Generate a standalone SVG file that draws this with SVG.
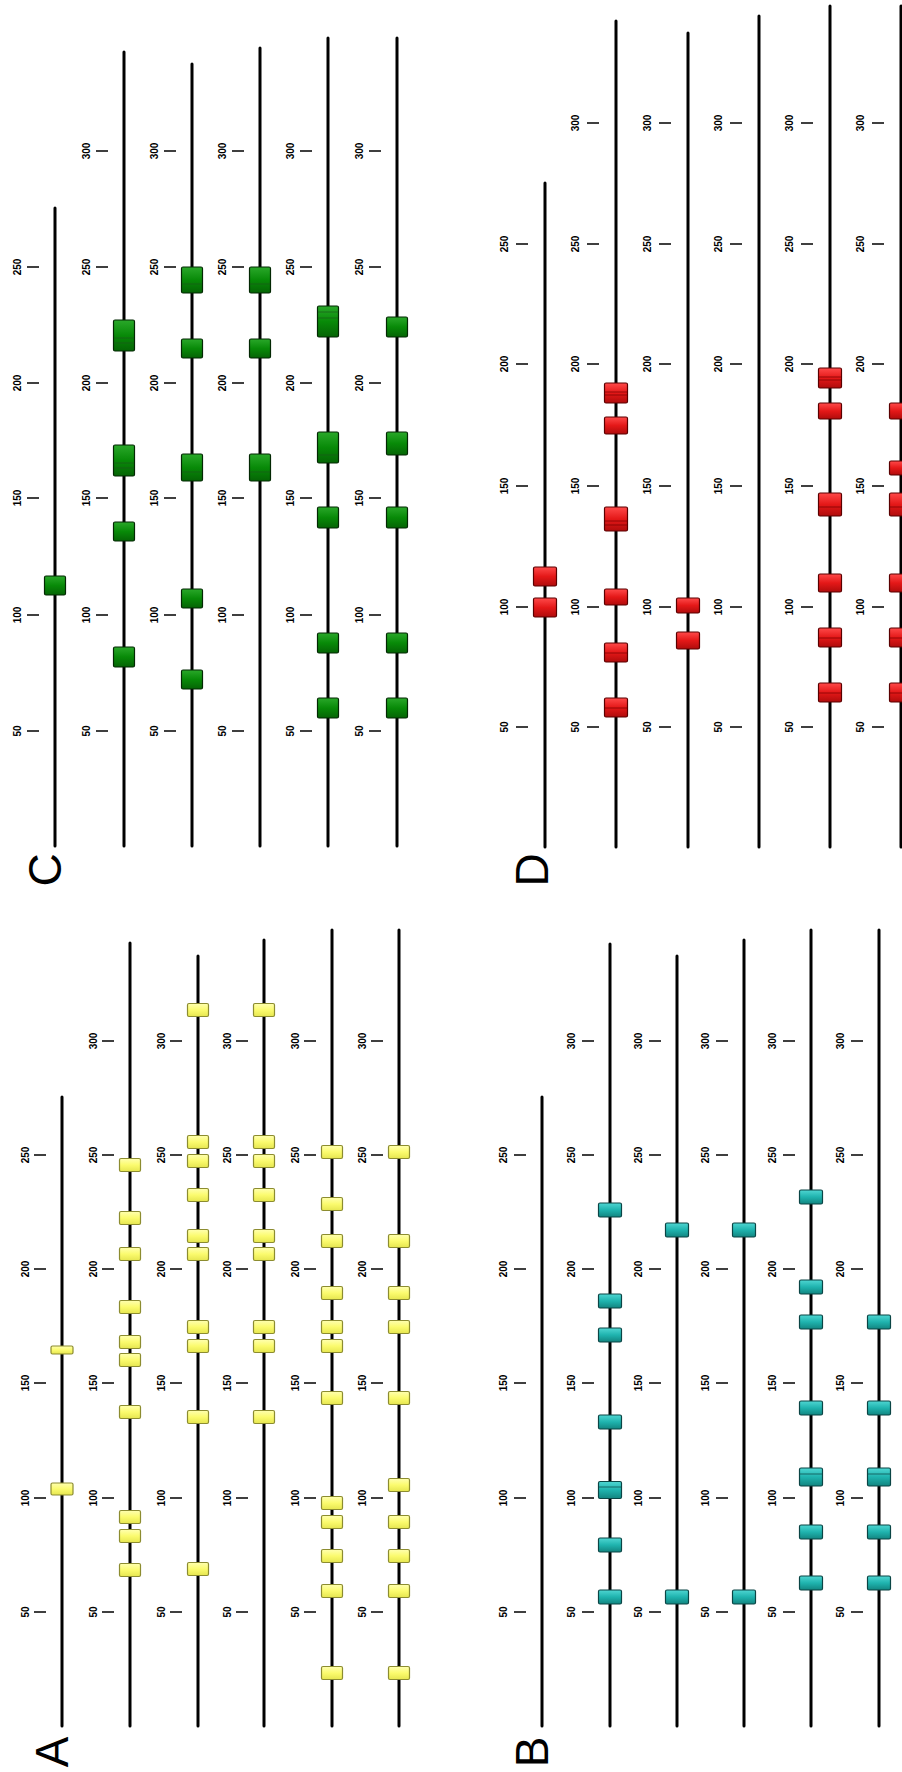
<svg xmlns="http://www.w3.org/2000/svg" width="902" height="1772" viewBox="0 0 902 1772">
<defs>
<linearGradient id="gy" x1="0" y1="0" x2="0" y2="1"><stop offset="0" stop-color="#ffffb0"/><stop offset="0.5" stop-color="#fbfb6e"/><stop offset="1" stop-color="#e6e650"/></linearGradient>
<linearGradient id="gt" x1="0" y1="0" x2="0" y2="1"><stop offset="0" stop-color="#4fd6d2"/><stop offset="0.5" stop-color="#1fb3ae"/><stop offset="1" stop-color="#128580"/></linearGradient>
<linearGradient id="gg" x1="0" y1="0" x2="0" y2="1"><stop offset="0" stop-color="#2aa82a"/><stop offset="0.5" stop-color="#088a08"/><stop offset="1" stop-color="#056405"/></linearGradient>
<linearGradient id="gr" x1="0" y1="0" x2="0" y2="1"><stop offset="0" stop-color="#ff4a4a"/><stop offset="0.5" stop-color="#e41818"/><stop offset="1" stop-color="#b00c0c"/></linearGradient>
<style>
.ln{stroke:#000;stroke-width:3;stroke-linecap:round;fill:none}
.tk{stroke:#000;stroke-width:1.6}
.t{font-family:"Liberation Sans",Arial,sans-serif;font-weight:bold;font-size:10px;text-anchor:middle;fill:#000}
.lbl{font-family:"Liberation Sans",Arial,sans-serif;font-size:46px;text-anchor:middle;fill:#000}
.ya{fill:url(#gy);stroke:#8c8c30;stroke-width:1.2}
.tb{fill:url(#gt);stroke:#0b4545;stroke-width:1.2}
.gc{fill:url(#gg);stroke:#032803;stroke-width:1.2}
.rd{fill:url(#gr);stroke:#5a0000;stroke-width:1.2}
.il{stroke-width:1;opacity:0.7}
</style>
</defs>
<rect width="902" height="1772" fill="#fff"/>

<!-- Panel A -->
<g id="panelA">
<text class="lbl" transform="translate(68,1752) rotate(-90)">A</text>
<g id="A-axis">
<path class="tk" d="M34 1612h12M34 1498h12M34 1383h12M34 1269h12M34 1155h12"/>
<text class="t" transform="translate(29,1612) rotate(-90)">50</text><text class="t" transform="translate(29,1498) rotate(-90)">100</text><text class="t" transform="translate(29,1383) rotate(-90)">150</text><text class="t" transform="translate(29,1269) rotate(-90)">200</text><text class="t" transform="translate(29,1155) rotate(-90)">250</text>
<path class="tk" d="M102 1612h12M102 1498h12M102 1383h12M102 1269h12M102 1155h12M102 1041h12"/>
<text class="t" transform="translate(97,1612) rotate(-90)">50</text><text class="t" transform="translate(97,1498) rotate(-90)">100</text><text class="t" transform="translate(97,1383) rotate(-90)">150</text><text class="t" transform="translate(97,1269) rotate(-90)">200</text><text class="t" transform="translate(97,1155) rotate(-90)">250</text><text class="t" transform="translate(97,1041) rotate(-90)">300</text>
<path class="tk" d="M170 1612h12M170 1498h12M170 1383h12M170 1269h12M170 1155h12M170 1041h12"/>
<text class="t" transform="translate(165,1612) rotate(-90)">50</text><text class="t" transform="translate(165,1498) rotate(-90)">100</text><text class="t" transform="translate(165,1383) rotate(-90)">150</text><text class="t" transform="translate(165,1269) rotate(-90)">200</text><text class="t" transform="translate(165,1155) rotate(-90)">250</text><text class="t" transform="translate(165,1041) rotate(-90)">300</text>
<path class="tk" d="M236 1612h12M236 1498h12M236 1383h12M236 1269h12M236 1155h12M236 1041h12"/>
<text class="t" transform="translate(231,1612) rotate(-90)">50</text><text class="t" transform="translate(231,1498) rotate(-90)">100</text><text class="t" transform="translate(231,1383) rotate(-90)">150</text><text class="t" transform="translate(231,1269) rotate(-90)">200</text><text class="t" transform="translate(231,1155) rotate(-90)">250</text><text class="t" transform="translate(231,1041) rotate(-90)">300</text>
<path class="tk" d="M304 1612h12M304 1498h12M304 1383h12M304 1269h12M304 1155h12M304 1041h12"/>
<text class="t" transform="translate(299,1612) rotate(-90)">50</text><text class="t" transform="translate(299,1498) rotate(-90)">100</text><text class="t" transform="translate(299,1383) rotate(-90)">150</text><text class="t" transform="translate(299,1269) rotate(-90)">200</text><text class="t" transform="translate(299,1155) rotate(-90)">250</text><text class="t" transform="translate(299,1041) rotate(-90)">300</text>
<path class="tk" d="M371 1612h12M371 1498h12M371 1383h12M371 1269h12M371 1155h12M371 1041h12"/>
<text class="t" transform="translate(366,1612) rotate(-90)">50</text><text class="t" transform="translate(366,1498) rotate(-90)">100</text><text class="t" transform="translate(366,1383) rotate(-90)">150</text><text class="t" transform="translate(366,1269) rotate(-90)">200</text><text class="t" transform="translate(366,1155) rotate(-90)">250</text><text class="t" transform="translate(366,1041) rotate(-90)">300</text>
</g>
<g id="A1"><line class="ln" x1="62" y1="1097" x2="62" y2="1726"/>
<rect class="ya" x="51" y="1346" width="22" height="8" rx="1.5"/><rect class="ya" x="51" y="1483" width="22" height="12" rx="1.5"/></g>
<g id="A2"><line class="ln" x1="130" y1="943" x2="130" y2="1726"/>
<rect class="ya" x="119.5" y="1158.5" width="21" height="13" rx="1.5"/><rect class="ya" x="119.5" y="1211.5" width="21" height="13" rx="1.5"/><rect class="ya" x="119.5" y="1247.5" width="21" height="13" rx="1.5"/><rect class="ya" x="119.5" y="1300.5" width="21" height="13" rx="1.5"/><rect class="ya" x="119.5" y="1335.5" width="21" height="13" rx="1.5"/><rect class="ya" x="119.5" y="1353.5" width="21" height="13" rx="1.5"/><rect class="ya" x="119.5" y="1405.5" width="21" height="13" rx="1.5"/><rect class="ya" x="119.5" y="1510.5" width="21" height="13" rx="1.5"/><rect class="ya" x="119.5" y="1529.5" width="21" height="13" rx="1.5"/><rect class="ya" x="119.5" y="1563.5" width="21" height="13" rx="1.5"/></g>
<g id="A3"><line class="ln" x1="198" y1="956" x2="198" y2="1726"/>
<rect class="ya" x="187.5" y="1003.5" width="21" height="13" rx="1.5"/><rect class="ya" x="187.5" y="1135.5" width="21" height="13" rx="1.5"/><rect class="ya" x="187.5" y="1154.5" width="21" height="13" rx="1.5"/><rect class="ya" x="187.5" y="1188.5" width="21" height="13" rx="1.5"/><rect class="ya" x="187.5" y="1229.5" width="21" height="13" rx="1.5"/><rect class="ya" x="187.5" y="1247.5" width="21" height="13" rx="1.5"/><rect class="ya" x="187.5" y="1320.5" width="21" height="13" rx="1.5"/><rect class="ya" x="187.5" y="1339.5" width="21" height="13" rx="1.5"/><rect class="ya" x="187.5" y="1410.5" width="21" height="13" rx="1.5"/><rect class="ya" x="187.5" y="1562.5" width="21" height="13" rx="1.5"/></g>
<g id="A4"><line class="ln" x1="264" y1="940" x2="264" y2="1726"/>
<rect class="ya" x="253.5" y="1003.5" width="21" height="13" rx="1.5"/><rect class="ya" x="253.5" y="1135.5" width="21" height="13" rx="1.5"/><rect class="ya" x="253.5" y="1154.5" width="21" height="13" rx="1.5"/><rect class="ya" x="253.5" y="1188.5" width="21" height="13" rx="1.5"/><rect class="ya" x="253.5" y="1229.5" width="21" height="13" rx="1.5"/><rect class="ya" x="253.5" y="1247.5" width="21" height="13" rx="1.5"/><rect class="ya" x="253.5" y="1320.5" width="21" height="13" rx="1.5"/><rect class="ya" x="253.5" y="1339.5" width="21" height="13" rx="1.5"/><rect class="ya" x="253.5" y="1410.5" width="21" height="13" rx="1.5"/></g>
<g id="A5"><line class="ln" x1="332" y1="930" x2="332" y2="1726"/>
<rect class="ya" x="321.5" y="1145.5" width="21" height="13" rx="1.5"/><rect class="ya" x="321.5" y="1197.5" width="21" height="13" rx="1.5"/><rect class="ya" x="321.5" y="1234.5" width="21" height="13" rx="1.5"/><rect class="ya" x="321.5" y="1286.5" width="21" height="13" rx="1.5"/><rect class="ya" x="321.5" y="1320.5" width="21" height="13" rx="1.5"/><rect class="ya" x="321.5" y="1339.5" width="21" height="13" rx="1.5"/><rect class="ya" x="321.5" y="1391.5" width="21" height="13" rx="1.5"/><rect class="ya" x="321.5" y="1496.5" width="21" height="13" rx="1.5"/><rect class="ya" x="321.5" y="1515.5" width="21" height="13" rx="1.5"/><rect class="ya" x="321.5" y="1549.5" width="21" height="13" rx="1.5"/><rect class="ya" x="321.5" y="1584.5" width="21" height="13" rx="1.5"/><rect class="ya" x="321.5" y="1666.5" width="21" height="13" rx="1.5"/></g>
<g id="A6"><line class="ln" x1="399" y1="930" x2="399" y2="1726"/>
<rect class="ya" x="388.5" y="1145.5" width="21" height="13" rx="1.5"/><rect class="ya" x="388.5" y="1234.5" width="21" height="13" rx="1.5"/><rect class="ya" x="388.5" y="1286.5" width="21" height="13" rx="1.5"/><rect class="ya" x="388.5" y="1320.5" width="21" height="13" rx="1.5"/><rect class="ya" x="388.5" y="1391.5" width="21" height="13" rx="1.5"/><rect class="ya" x="388.5" y="1478.5" width="21" height="13" rx="1.5"/><rect class="ya" x="388.5" y="1515.5" width="21" height="13" rx="1.5"/><rect class="ya" x="388.5" y="1549.5" width="21" height="13" rx="1.5"/><rect class="ya" x="388.5" y="1584.5" width="21" height="13" rx="1.5"/><rect class="ya" x="388.5" y="1666.5" width="21" height="13" rx="1.5"/></g>
</g>

<!-- Panel B -->
<g id="panelB">
<text class="lbl" transform="translate(548,1752) rotate(-90)">B</text>
<g id="B-axis">
<path class="tk" d="M514 1612h12M514 1498h12M514 1383h12M514 1269h12M514 1155h12"/>
<text class="t" transform="translate(507,1612) rotate(-90)">50</text><text class="t" transform="translate(507,1498) rotate(-90)">100</text><text class="t" transform="translate(507,1383) rotate(-90)">150</text><text class="t" transform="translate(507,1269) rotate(-90)">200</text><text class="t" transform="translate(507,1155) rotate(-90)">250</text>
<path class="tk" d="M582 1612h12M582 1498h12M582 1383h12M582 1269h12M582 1155h12M582 1041h12"/>
<text class="t" transform="translate(575,1612) rotate(-90)">50</text><text class="t" transform="translate(575,1498) rotate(-90)">100</text><text class="t" transform="translate(575,1383) rotate(-90)">150</text><text class="t" transform="translate(575,1269) rotate(-90)">200</text><text class="t" transform="translate(575,1155) rotate(-90)">250</text><text class="t" transform="translate(575,1041) rotate(-90)">300</text>
<path class="tk" d="M649 1612h12M649 1498h12M649 1383h12M649 1269h12M649 1155h12M649 1041h12"/>
<text class="t" transform="translate(642,1612) rotate(-90)">50</text><text class="t" transform="translate(642,1498) rotate(-90)">100</text><text class="t" transform="translate(642,1383) rotate(-90)">150</text><text class="t" transform="translate(642,1269) rotate(-90)">200</text><text class="t" transform="translate(642,1155) rotate(-90)">250</text><text class="t" transform="translate(642,1041) rotate(-90)">300</text>
<path class="tk" d="M716 1612h12M716 1498h12M716 1383h12M716 1269h12M716 1155h12M716 1041h12"/>
<text class="t" transform="translate(709,1612) rotate(-90)">50</text><text class="t" transform="translate(709,1498) rotate(-90)">100</text><text class="t" transform="translate(709,1383) rotate(-90)">150</text><text class="t" transform="translate(709,1269) rotate(-90)">200</text><text class="t" transform="translate(709,1155) rotate(-90)">250</text><text class="t" transform="translate(709,1041) rotate(-90)">300</text>
<path class="tk" d="M783 1612h12M783 1498h12M783 1383h12M783 1269h12M783 1155h12M783 1041h12"/>
<text class="t" transform="translate(776,1612) rotate(-90)">50</text><text class="t" transform="translate(776,1498) rotate(-90)">100</text><text class="t" transform="translate(776,1383) rotate(-90)">150</text><text class="t" transform="translate(776,1269) rotate(-90)">200</text><text class="t" transform="translate(776,1155) rotate(-90)">250</text><text class="t" transform="translate(776,1041) rotate(-90)">300</text>
<path class="tk" d="M851 1612h12M851 1498h12M851 1383h12M851 1269h12M851 1155h12M851 1041h12"/>
<text class="t" transform="translate(844,1612) rotate(-90)">50</text><text class="t" transform="translate(844,1498) rotate(-90)">100</text><text class="t" transform="translate(844,1383) rotate(-90)">150</text><text class="t" transform="translate(844,1269) rotate(-90)">200</text><text class="t" transform="translate(844,1155) rotate(-90)">250</text><text class="t" transform="translate(844,1041) rotate(-90)">300</text>
</g>
<g id="B1"><line class="ln" x1="542" y1="1097" x2="542" y2="1726"/></g>
<g id="B2"><line class="ln" x1="610" y1="944" x2="610" y2="1726"/>
<rect class="tb" x="598.5" y="1203" width="23" height="14" rx="1.5"/><rect class="tb" x="598.5" y="1294" width="23" height="14" rx="1.5"/><rect class="tb" x="598.5" y="1328" width="23" height="14" rx="1.5"/><rect class="tb" x="598.5" y="1415" width="23" height="14" rx="1.5"/><rect class="tb" x="598.5" y="1481.5" width="23" height="17" rx="1.5"/><line class="il" x1="599" y1="1487" x2="621" y2="1487" stroke="#0b4545"/><rect class="tb" x="598.5" y="1538" width="23" height="14" rx="1.5"/><rect class="tb" x="598.5" y="1590" width="23" height="14" rx="1.5"/></g>
<g id="B3"><line class="ln" x1="677" y1="956" x2="677" y2="1726"/>
<rect class="tb" x="665.5" y="1223" width="23" height="14" rx="1.5"/><rect class="tb" x="665.5" y="1590" width="23" height="14" rx="1.5"/></g>
<g id="B4"><line class="ln" x1="744" y1="940" x2="744" y2="1726"/>
<rect class="tb" x="732.5" y="1223" width="23" height="14" rx="1.5"/><rect class="tb" x="732.5" y="1590" width="23" height="14" rx="1.5"/></g>
<g id="B5"><line class="ln" x1="811" y1="930" x2="811" y2="1726"/>
<rect class="tb" x="799.5" y="1190" width="23" height="14" rx="1.5"/><rect class="tb" x="799.5" y="1280" width="23" height="14" rx="1.5"/><rect class="tb" x="799.5" y="1315" width="23" height="14" rx="1.5"/><rect class="tb" x="799.5" y="1401" width="23" height="14" rx="1.5"/><rect class="tb" x="799.5" y="1468" width="23" height="18" rx="1.5"/><line class="il" x1="800" y1="1474" x2="822" y2="1474" stroke="#0b4545"/><rect class="tb" x="799.5" y="1525" width="23" height="14" rx="1.5"/><rect class="tb" x="799.5" y="1576" width="23" height="14" rx="1.5"/></g>
<g id="B6"><line class="ln" x1="879" y1="930" x2="879" y2="1726"/>
<rect class="tb" x="867.5" y="1315" width="23" height="14" rx="1.5"/><rect class="tb" x="867.5" y="1401" width="23" height="14" rx="1.5"/><rect class="tb" x="867.5" y="1468" width="23" height="18" rx="1.5"/><line class="il" x1="868" y1="1474" x2="890" y2="1474" stroke="#0b4545"/><rect class="tb" x="867.5" y="1525" width="23" height="14" rx="1.5"/><rect class="tb" x="867.5" y="1576" width="23" height="14" rx="1.5"/></g>
</g>

<!-- Panel C -->
<g id="panelC">
<text class="lbl" transform="translate(61,870) rotate(-90)">C</text>
<g id="C-axis">
<path class="tk" d="M27 731h12M27 615h12M27 498h12M27 383h12M27 267h12"/>
<text class="t" transform="translate(21,731) rotate(-90)">50</text><text class="t" transform="translate(21,615) rotate(-90)">100</text><text class="t" transform="translate(21,498) rotate(-90)">150</text><text class="t" transform="translate(21,383) rotate(-90)">200</text><text class="t" transform="translate(21,267) rotate(-90)">250</text>
<path class="tk" d="M96 731h12M96 615h12M96 498h12M96 383h12M96 267h12M96 151h12"/>
<text class="t" transform="translate(90,731) rotate(-90)">50</text><text class="t" transform="translate(90,615) rotate(-90)">100</text><text class="t" transform="translate(90,498) rotate(-90)">150</text><text class="t" transform="translate(90,383) rotate(-90)">200</text><text class="t" transform="translate(90,267) rotate(-90)">250</text><text class="t" transform="translate(90,151) rotate(-90)">300</text>
<path class="tk" d="M164 731h12M164 615h12M164 498h12M164 383h12M164 267h12M164 151h12"/>
<text class="t" transform="translate(158,731) rotate(-90)">50</text><text class="t" transform="translate(158,615) rotate(-90)">100</text><text class="t" transform="translate(158,498) rotate(-90)">150</text><text class="t" transform="translate(158,383) rotate(-90)">200</text><text class="t" transform="translate(158,267) rotate(-90)">250</text><text class="t" transform="translate(158,151) rotate(-90)">300</text>
<path class="tk" d="M232 731h12M232 615h12M232 498h12M232 383h12M232 267h12M232 151h12"/>
<text class="t" transform="translate(226,731) rotate(-90)">50</text><text class="t" transform="translate(226,615) rotate(-90)">100</text><text class="t" transform="translate(226,498) rotate(-90)">150</text><text class="t" transform="translate(226,383) rotate(-90)">200</text><text class="t" transform="translate(226,267) rotate(-90)">250</text><text class="t" transform="translate(226,151) rotate(-90)">300</text>
<path class="tk" d="M300 731h12M300 615h12M300 498h12M300 383h12M300 267h12M300 151h12"/>
<text class="t" transform="translate(294,731) rotate(-90)">50</text><text class="t" transform="translate(294,615) rotate(-90)">100</text><text class="t" transform="translate(294,498) rotate(-90)">150</text><text class="t" transform="translate(294,383) rotate(-90)">200</text><text class="t" transform="translate(294,267) rotate(-90)">250</text><text class="t" transform="translate(294,151) rotate(-90)">300</text>
<path class="tk" d="M369 731h12M369 615h12M369 498h12M369 383h12M369 267h12M369 151h12"/>
<text class="t" transform="translate(363,731) rotate(-90)">50</text><text class="t" transform="translate(363,615) rotate(-90)">100</text><text class="t" transform="translate(363,498) rotate(-90)">150</text><text class="t" transform="translate(363,383) rotate(-90)">200</text><text class="t" transform="translate(363,267) rotate(-90)">250</text><text class="t" transform="translate(363,151) rotate(-90)">300</text>
</g>
<g id="C1"><line class="ln" x1="55" y1="208" x2="55" y2="846"/>
<rect class="gc" x="44.5" y="576" width="21" height="19" rx="1.5"/></g>
<g id="C2"><line class="ln" x1="124" y1="52" x2="124" y2="846"/>
<rect class="gc" x="113.5" y="320" width="21" height="31" rx="1.5"/><path class="il" d="M114 338h20M114 343h20" stroke="#1a5a1a"/>
<rect class="gc" x="113.5" y="445" width="21" height="31" rx="1.5"/><path class="il" d="M114 463h20M114 468h20" stroke="#1a5a1a"/>
<rect class="gc" x="113.5" y="522" width="21" height="19" rx="1.5"/><rect class="gc" x="113.5" y="647" width="21" height="20" rx="1.5"/></g>
<g id="C3"><line class="ln" x1="192" y1="64" x2="192" y2="846"/>
<rect class="gc" x="181.5" y="267" width="21" height="26" rx="1.5"/><path class="il" d="M182 284h20" stroke="#1a5a1a"/>
<rect class="gc" x="181.5" y="339" width="21" height="19" rx="1.5"/>
<rect class="gc" x="181.5" y="454" width="21" height="27" rx="1.5"/><path class="il" d="M182 472h20" stroke="#1a5a1a"/>
<rect class="gc" x="181.5" y="589" width="21" height="19" rx="1.5"/><rect class="gc" x="181.5" y="670" width="21" height="19" rx="1.5"/></g>
<g id="C4"><line class="ln" x1="260" y1="48" x2="260" y2="846"/>
<rect class="gc" x="249.5" y="267" width="21" height="26" rx="1.5"/><path class="il" d="M250 284h20" stroke="#1a5a1a"/>
<rect class="gc" x="249.5" y="339" width="21" height="19" rx="1.5"/>
<rect class="gc" x="249.5" y="454" width="21" height="27" rx="1.5"/><path class="il" d="M250 472h20" stroke="#1a5a1a"/></g>
<g id="C5"><line class="ln" x1="328" y1="38" x2="328" y2="846"/>
<rect class="gc" x="317.5" y="306" width="21" height="31" rx="1.5"/><path class="il" d="M318 312h20M318 318h20" stroke="#1a5a1a"/>
<rect class="gc" x="317.5" y="432" width="21" height="31" rx="1.5"/><path class="il" d="M318 455h20" stroke="#1a5a1a"/>
<rect class="gc" x="317.5" y="507" width="21" height="21" rx="1.5"/><rect class="gc" x="317.5" y="633" width="21" height="20" rx="1.5"/><rect class="gc" x="317.5" y="698" width="21" height="20" rx="1.5"/></g>
<g id="C6"><line class="ln" x1="397" y1="38" x2="397" y2="846"/>
<rect class="gc" x="386.5" y="317" width="21" height="20" rx="1.5"/><rect class="gc" x="386.5" y="432" width="21" height="23" rx="1.5"/><rect class="gc" x="386.5" y="507" width="21" height="21" rx="1.5"/><rect class="gc" x="386.5" y="633" width="21" height="20" rx="1.5"/><rect class="gc" x="386.5" y="698" width="21" height="20" rx="1.5"/></g>
</g>

<!-- Panel D -->
<g id="panelD">
<text class="lbl" transform="translate(548,870) rotate(-90)">D</text>
<g id="D-axis">
<path class="tk" d="M516 727h12M516 607h12M516 486h12M516 364h12M516 244h12"/>
<text class="t" transform="translate(508,727) rotate(-90)">50</text><text class="t" transform="translate(508,607) rotate(-90)">100</text><text class="t" transform="translate(508,486) rotate(-90)">150</text><text class="t" transform="translate(508,364) rotate(-90)">200</text><text class="t" transform="translate(508,244) rotate(-90)">250</text>
<path class="tk" d="M587 727h12M587 607h12M587 486h12M587 364h12M587 244h12M587 123h12"/>
<text class="t" transform="translate(579,727) rotate(-90)">50</text><text class="t" transform="translate(579,607) rotate(-90)">100</text><text class="t" transform="translate(579,486) rotate(-90)">150</text><text class="t" transform="translate(579,364) rotate(-90)">200</text><text class="t" transform="translate(579,244) rotate(-90)">250</text><text class="t" transform="translate(579,123) rotate(-90)">300</text>
<path class="tk" d="M659 727h12M659 607h12M659 486h12M659 364h12M659 244h12M659 123h12"/>
<text class="t" transform="translate(651,727) rotate(-90)">50</text><text class="t" transform="translate(651,607) rotate(-90)">100</text><text class="t" transform="translate(651,486) rotate(-90)">150</text><text class="t" transform="translate(651,364) rotate(-90)">200</text><text class="t" transform="translate(651,244) rotate(-90)">250</text><text class="t" transform="translate(651,123) rotate(-90)">300</text>
<path class="tk" d="M730 727h12M730 607h12M730 486h12M730 364h12M730 244h12M730 123h12"/>
<text class="t" transform="translate(722,727) rotate(-90)">50</text><text class="t" transform="translate(722,607) rotate(-90)">100</text><text class="t" transform="translate(722,486) rotate(-90)">150</text><text class="t" transform="translate(722,364) rotate(-90)">200</text><text class="t" transform="translate(722,244) rotate(-90)">250</text><text class="t" transform="translate(722,123) rotate(-90)">300</text>
<path class="tk" d="M801 727h12M801 607h12M801 486h12M801 364h12M801 244h12M801 123h12"/>
<text class="t" transform="translate(793,727) rotate(-90)">50</text><text class="t" transform="translate(793,607) rotate(-90)">100</text><text class="t" transform="translate(793,486) rotate(-90)">150</text><text class="t" transform="translate(793,364) rotate(-90)">200</text><text class="t" transform="translate(793,244) rotate(-90)">250</text><text class="t" transform="translate(793,123) rotate(-90)">300</text>
<path class="tk" d="M872 727h12M872 607h12M872 486h12M872 364h12M872 244h12M872 123h12"/>
<text class="t" transform="translate(864,727) rotate(-90)">50</text><text class="t" transform="translate(864,607) rotate(-90)">100</text><text class="t" transform="translate(864,486) rotate(-90)">150</text><text class="t" transform="translate(864,364) rotate(-90)">200</text><text class="t" transform="translate(864,244) rotate(-90)">250</text><text class="t" transform="translate(864,123) rotate(-90)">300</text>
</g>
<g id="D1"><line class="ln" x1="545" y1="183" x2="545" y2="847"/>
<rect class="rd" x="533.5" y="567" width="23" height="19" rx="1.5"/><rect class="rd" x="533.5" y="598" width="23" height="19" rx="1.5"/></g>
<g id="D2"><line class="ln" x1="616" y1="21" x2="616" y2="847"/>
<rect class="rd" x="604.5" y="383" width="23" height="20" rx="1.5"/><path class="il" d="M605 392h22M605 395h22" stroke="#700"/>
<rect class="rd" x="604.5" y="417" width="23" height="17" rx="1.5"/>
<rect class="rd" x="604.5" y="507" width="23" height="24" rx="1.5"/><path class="il" d="M605 521h22M605 525h22" stroke="#700"/>
<rect class="rd" x="604.5" y="589" width="23" height="16" rx="1.5"/>
<rect class="rd" x="604.5" y="643" width="23" height="19" rx="1.5"/><path class="il" d="M605 653h22" stroke="#700"/>
<rect class="rd" x="604.5" y="698" width="23" height="19" rx="1.5"/><path class="il" d="M605 708h22" stroke="#700"/></g>
<g id="D3"><line class="ln" x1="688" y1="33" x2="688" y2="847"/>
<rect class="rd" x="676.5" y="598" width="23" height="15" rx="1.5"/><rect class="rd" x="676.5" y="632" width="23" height="17" rx="1.5"/></g>
<g id="D4"><line class="ln" x1="759" y1="16" x2="759" y2="847"/></g>
<g id="D5"><line class="ln" x1="830" y1="6" x2="830" y2="847"/>
<rect class="rd" x="818.5" y="368" width="23" height="20" rx="1.5"/><path class="il" d="M819 377h22M819 380h22" stroke="#700"/>
<rect class="rd" x="818.5" y="403" width="23" height="16" rx="1.5"/>
<rect class="rd" x="818.5" y="493" width="23" height="23" rx="1.5"/><path class="il" d="M819 507h22" stroke="#700"/>
<rect class="rd" x="818.5" y="574" width="23" height="18" rx="1.5"/>
<rect class="rd" x="818.5" y="628" width="23" height="19" rx="1.5"/><path class="il" d="M819 638h22" stroke="#700"/>
<rect class="rd" x="818.5" y="683" width="23" height="19" rx="1.5"/><path class="il" d="M819 693h22" stroke="#700"/></g>
<g id="D6"><line class="ln" x1="901" y1="6" x2="901" y2="847"/>
<rect class="rd" x="889.5" y="403" width="23" height="16" rx="1.5"/><rect class="rd" x="889.5" y="461" width="23" height="14" rx="1.5"/>
<rect class="rd" x="889.5" y="493" width="23" height="23" rx="1.5"/><path class="il" d="M890 507h22" stroke="#700"/>
<rect class="rd" x="889.5" y="574" width="23" height="18" rx="1.5"/>
<rect class="rd" x="889.5" y="628" width="23" height="19" rx="1.5"/><path class="il" d="M890 638h22" stroke="#700"/>
<rect class="rd" x="889.5" y="683" width="23" height="19" rx="1.5"/><path class="il" d="M890 693h22" stroke="#700"/></g>
</g>
</svg>
